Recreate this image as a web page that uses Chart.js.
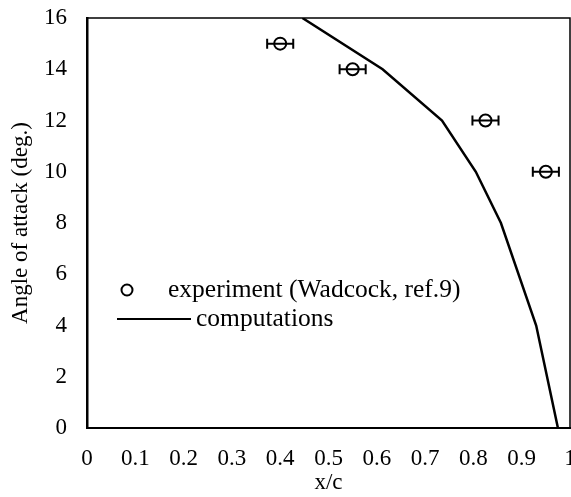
<!DOCTYPE html>
<html>
<head>
<meta charset="utf-8">
<script src="https://cdn.jsdelivr.net/npm/chart.js@4/dist/chart.umd.min.js"></script>
<style>
  html, body { margin: 0; padding: 0; background: #fff; }
  #wrap { width: 571px; height: 497px; position: relative; }
</style>
</head>
<body>
<div id="wrap"><canvas id="chart"></canvas></div>
<script>
// experiment (Wadcock) points and x error half-widths
const expX = [0.40, 0.55, 0.825, 0.95];
const expY = [15, 14, 12, 10];
const expErr = [0.027, 0.027, 0.027, 0.027];

// computed line
const compX = [0.446, 0.612, 0.735, 0.805, 0.857, 0.93, 0.975];
const compY = [16, 14, 12, 10, 8, 4, 0];

const legendLabels = ['experiment (Wadcock, ref.9)', 'computations'];
const FONT = '"Liberation Serif", "DejaVu Serif", serif';

const zip = (xs, ys) => xs.map((x, i) => ({ x: x, y: ys[i] }));

// error bars for the experiment points
const errorBars = {
    id: 'errorBars',
    afterDatasetsDraw(chart) {
        const ctx = chart.ctx;
        const xs = chart.scales.x, ys = chart.scales.y;
        ctx.save();
        ctx.strokeStyle = '#000';
        ctx.lineWidth = 2;
        expX.forEach((x, i) => {
            const y = ys.getPixelForValue(expY[i]);
            const x0 = xs.getPixelForValue(x - expErr[i]);
            const x1 = xs.getPixelForValue(x + expErr[i]);
            ctx.beginPath();
            ctx.moveTo(x0, y); ctx.lineTo(x1, y);
            ctx.moveTo(x0, y - 5); ctx.lineTo(x0, y + 5);
            ctx.moveTo(x1, y - 5); ctx.lineTo(x1, y + 5);
            ctx.stroke();
        });
        ctx.restore();
    }
};

// frame round the plot + legend inside it
const frameAndLegend = {
    id: 'frameAndLegend',
    afterDraw(chart) {
        const ctx = chart.ctx;
        const a = chart.chartArea;
        ctx.save();
        ctx.strokeStyle = '#000';
        ctx.lineWidth = 1.5;
        ctx.beginPath();
        ctx.moveTo(a.left, a.top); ctx.lineTo(a.right, a.top);
        ctx.lineTo(a.right, a.bottom);
        ctx.stroke();

        // legend
        ctx.font = '25.5px ' + FONT;
        ctx.fillStyle = '#000';
        ctx.textBaseline = 'middle';
        ctx.lineWidth = 2;
        ctx.beginPath();
        ctx.arc(127, 290, 5.5, 0, Math.PI * 2);
        ctx.stroke();
        ctx.fillText(legendLabels[0], 168, 290);
        ctx.beginPath();
        ctx.moveTo(117, 319); ctx.lineTo(191, 319);
        ctx.stroke();
        ctx.fillText(legendLabels[1], 196, 319);
        ctx.restore();
    }
};

new Chart(document.getElementById('chart'), {
    type: 'scatter',
    data: {
        datasets: [
            {
                label: legendLabels[0],
                data: zip(expX, expY),
                showLine: false,
                pointStyle: 'circle',
                pointRadius: 6,
                pointBorderWidth: 2,
                pointBorderColor: '#000',
                pointBackgroundColor: 'rgba(0,0,0,0)'
            },
            {
                label: legendLabels[1],
                data: zip(compX, compY),
                showLine: true,
                borderColor: '#000',
                borderWidth: 2.5,
                pointRadius: 0,
                tension: 0,
                fill: false
            }
        ]
    },
    options: {
        responsive: true,
        maintainAspectRatio: false,
        animation: false,
        layout: { autoPadding: false, padding: { top: 18, right: 1, left: 0, bottom: 0 } },
        plugins: {
            legend: { display: false },
            tooltip: { enabled: false }
        },
        scales: {
            x: {
                type: 'linear',
                min: 0, max: 1,
                grid: { display: false, drawOnChartArea: false, drawTicks: true, tickLength: 12, tickColor: '#000', tickWidth: 1.5 },
                border: { display: true, color: '#000', width: 2 },
                ticks: {
                    stepSize: 0.1,
                    color: '#000',
                    padding: 5,
                    maxRotation: 0,
                    autoSkip: false,
                    font: { family: FONT, size: 23 },
                    callback: v => String(+v.toFixed(1))
                },
                title: {
                    display: true, text: 'x/c', color: '#000',
                    font: { family: FONT, size: 23 },
                    padding: { top: 0, bottom: 0 }
                },
                afterFit(scale) {
                    scale.height = 69;
                    scale.paddingRight = 0;
                    scale.paddingLeft = 0;
                }
            },
            y: {
                type: 'linear',
                min: 0, max: 16,
                grid: { display: false, drawOnChartArea: false, drawTicks: true, tickLength: 13, tickColor: '#000', tickWidth: 1.5 },
                border: { display: true, color: '#000', width: 2.5 },
                ticks: {
                    stepSize: 2,
                    color: '#000',
                    padding: 7,
                    font: { family: FONT, size: 23 }
                },
                title: {
                    display: true, text: 'Angle of attack (deg.)', color: '#000',
                    font: { family: FONT, size: 23 },
                    padding: { top: 7, bottom: 0 }
                },
                afterFit(scale) {
                    scale.width = 87;
                    scale.paddingTop = 0;
                    scale.paddingBottom = 0;
                }
            }
        }
    },
    plugins: [errorBars, frameAndLegend]
});
</script>
</body>
</html>
